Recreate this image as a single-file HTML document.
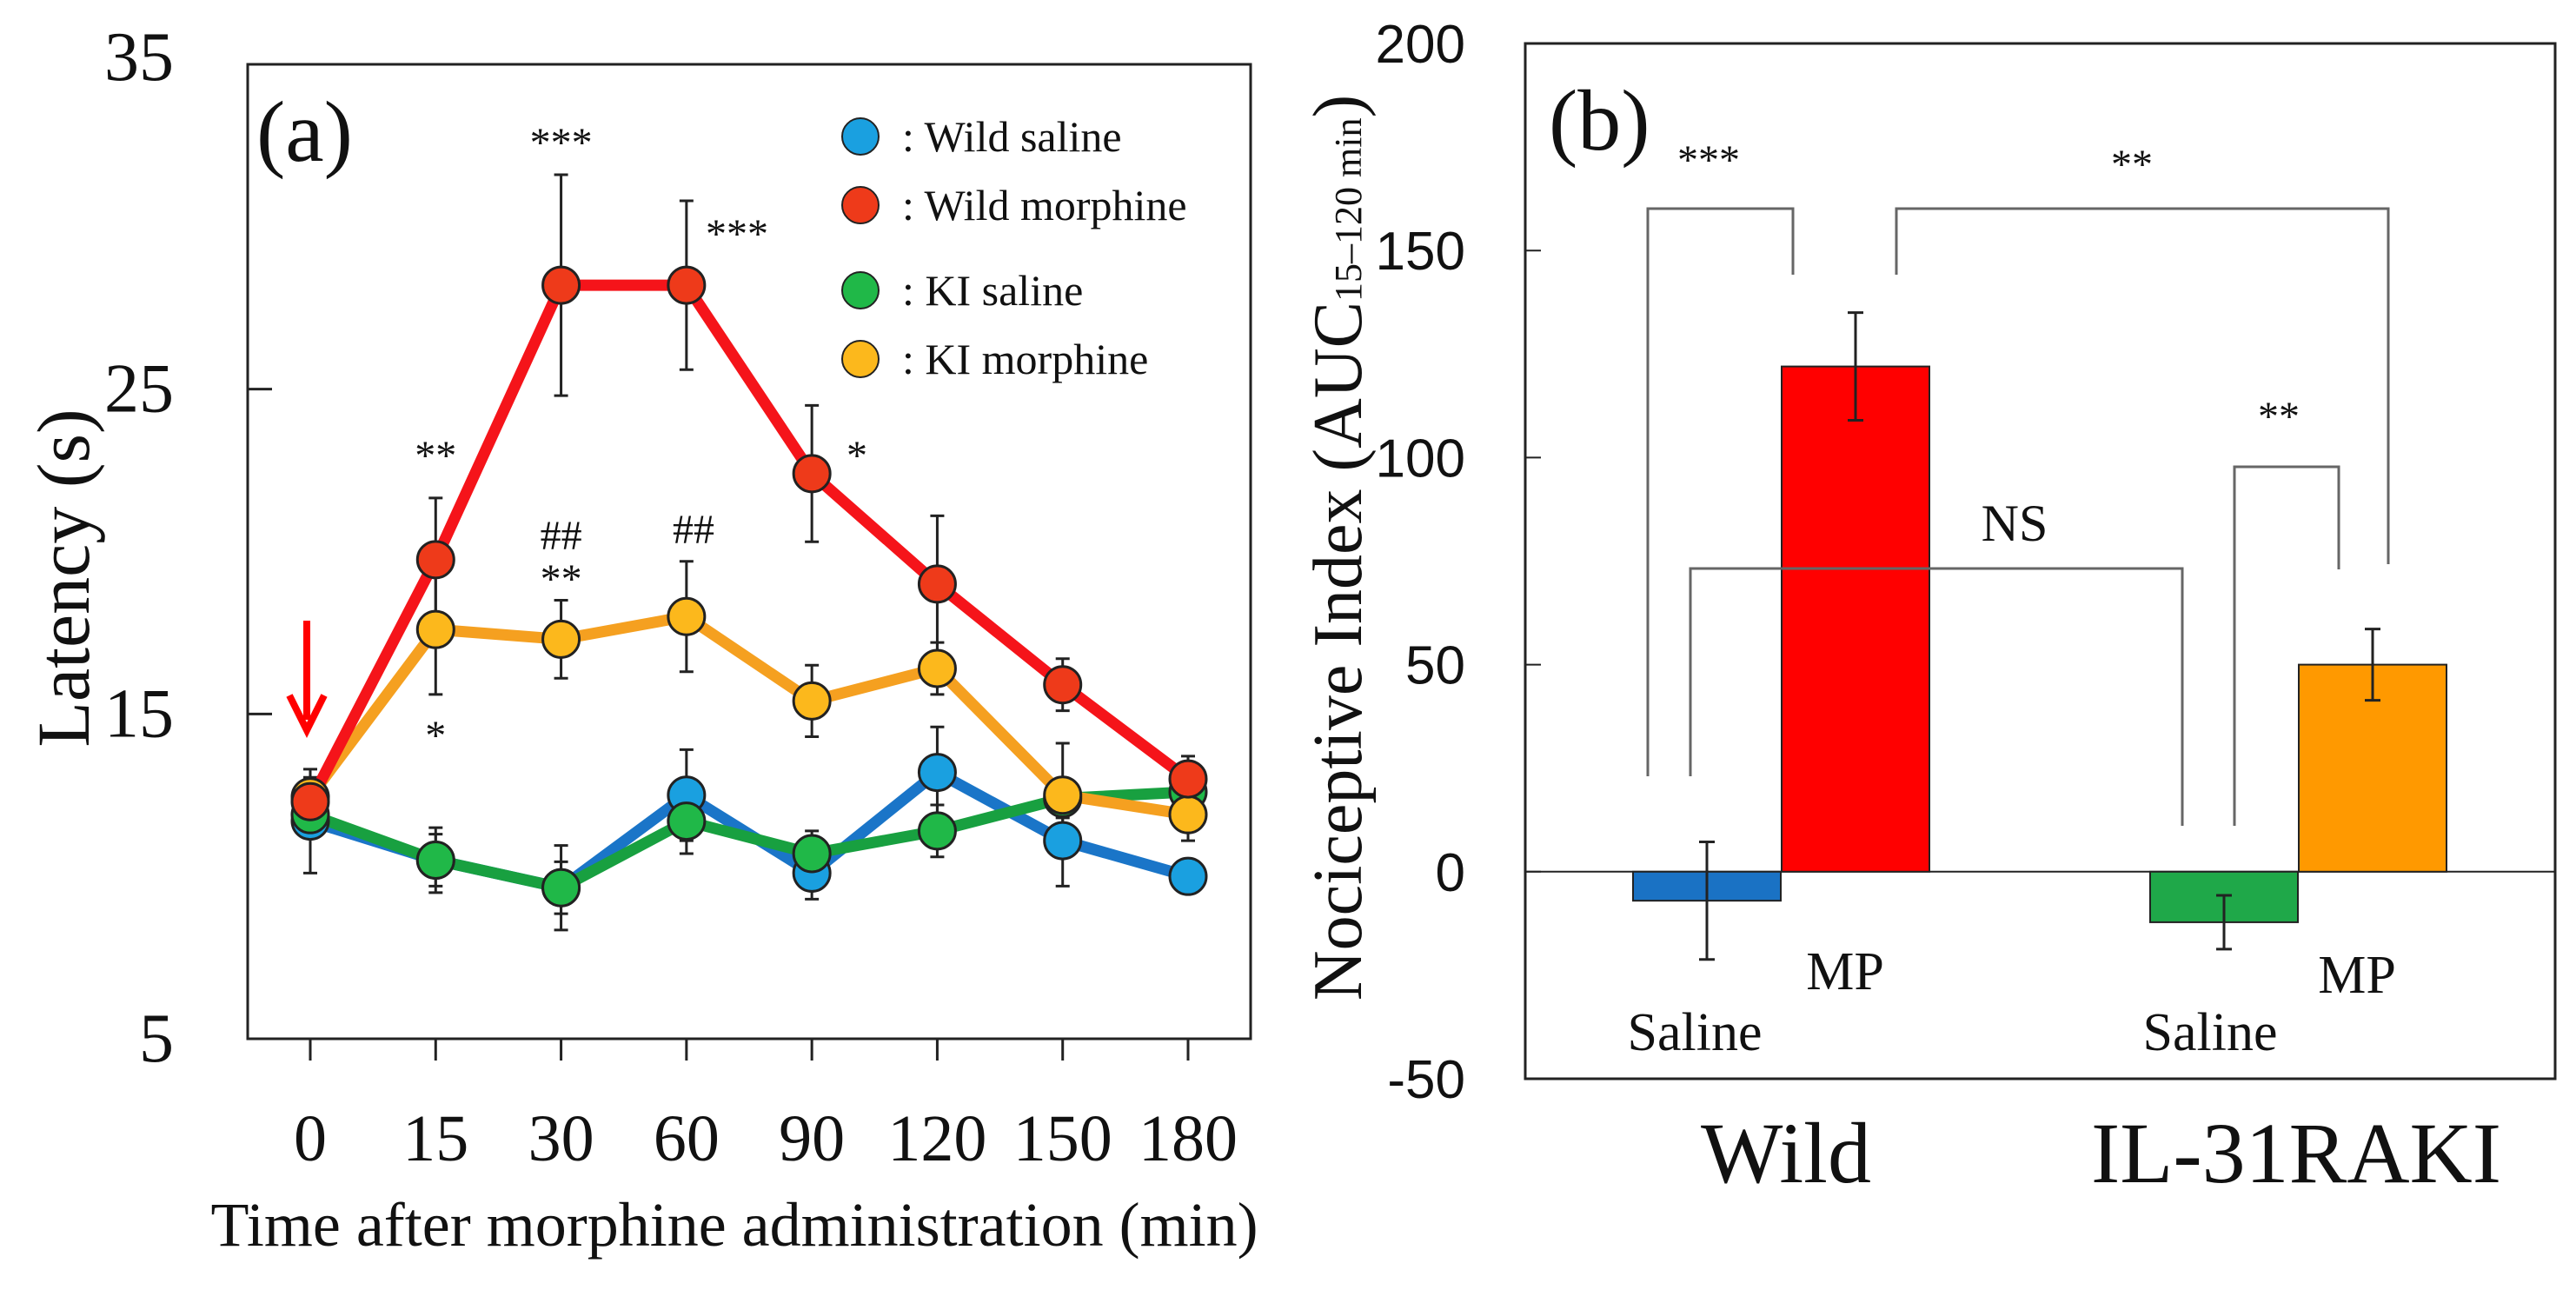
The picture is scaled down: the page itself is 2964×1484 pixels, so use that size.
<!DOCTYPE html>
<html><head><meta charset="utf-8"><style>
html,body{margin:0;padding:0;background:#fff}
svg{display:block}
text{font-family:"Liberation Serif",serif;fill:#111}
</style></head><body>
<svg id="c" width="2964" height="1484" viewBox="0 0 2964 1484" xmlns="http://www.w3.org/2000/svg"></svg>
<script>
// ---- Panel (a) data ----
const timeLabels = ["0","15","30","60","90","120","150","180"];
const wildSaline = [11.7,10.5,9.65,12.5,10.1,13.2,11.1,10.0];
const wildSalineErr = [1.6,1.0,1.3,1.4,0.8,1.4,1.4,0.4];
const wildMorphine = [12.3,19.75,28.2,28.2,22.4,19.0,15.9,13.0];
const wildMorphineErr = [0.6,1.9,3.4,2.6,2.1,2.1,0.8,0.7];
const kiSaline = [11.9,10.5,9.65,11.7,10.7,11.4,12.4,12.6];
const kiSalineErr = [0.7,0.8,0.8,1.0,0.7,0.8,0.6,0.6];
const kiMorphine = [12.45,17.6,17.3,18.0,15.4,16.4,12.5,11.9];
const kiMorphineErr = [0.6,2.0,1.2,1.7,1.1,0.8,1.6,0.8];
const yTicksA = [5,15,25,35];
// ---- Panel (b) data ----
const barGroups = ["Wild","IL-31RAKI"];
const barValues = [-7,122,-12.2,50];
const barErrors = [14.2,13,6.5,8.6];
const yTicksB = [-50,0,50,100,150,200];

const NS="http://www.w3.org/2000/svg";
const svg=document.getElementById('c');
function el(tag,attrs,parent,txt){const e=document.createElementNS(NS,tag);for(const k in attrs)e.setAttribute(k,attrs[k]);if(txt!==undefined)e.textContent=txt;(parent||svg).appendChild(e);return e;}

// ===== Panel A =====
const A={l:285,r:1439,t:74,b:1195,min:5,max:35};
const ya=v=>A.b-(v-A.min)/(A.max-A.min)*(A.b-A.t);
const xa=i=>357+i*(1367-357)/7;
const ga=el('g',{});

let fr=el('rect',{x:A.l,y:A.t,width:A.r-A.l,height:A.b-A.t,fill:'none',stroke:'#222','stroke-width':3},ga);

yTicksA.forEach(v=>{
  let tk=el('line',{x1:A.l,x2:A.l+28,y1:ya(v),y2:ya(v),stroke:'#222','stroke-width':3},ga);
  
  let t=el('text',{x:200,y:ya(v)+(v==35?18:26),'text-anchor':'end','font-size':80},ga,String(v));
  
});
timeLabels.forEach((s,i)=>{
  let tk=el('line',{x1:xa(i),x2:xa(i),y1:A.b,y2:A.b+25,stroke:'#222','stroke-width':3},ga);
  
  let t=el('text',{x:xa(i),y:1335,'text-anchor':'middle','font-size':76},ga,s);
  
});
let xt=el('text',{x:845,y:1433,'text-anchor':'middle','font-size':72},ga,'Time after morphine administration (min)');

let yt=el('text',{x:0,y:0,'text-anchor':'middle','font-size':86,transform:'translate(102,665) rotate(-90)'},ga,'Latency (s)');

let pl=el('text',{x:295,y:185,'font-size':100},ga,'(a)');


const series=[
 {name:'wild-saline',d:wildSaline,e:wildSalineErr,c:'#1a75c8',f:'#1aa0e0'},
 {name:'ki-saline',d:kiSaline,e:kiSalineErr,c:'#18a040',f:'#20b848'},
 {name:'ki-morphine',d:kiMorphine,e:kiMorphineErr,c:'#f5a020',f:'#fcb81c'},
 {name:'wild-morphine',d:wildMorphine,e:wildMorphineErr,c:'#f5141a',f:'#ee3a1a'}
];
series.forEach(s=>{
  s.d.forEach((v,i)=>{
    let eb=el('path',{d:`M${xa(i)} ${ya(v-s.e[i])}V${ya(v+s.e[i])}M${xa(i)-8} ${ya(v-s.e[i])}h16M${xa(i)-8} ${ya(v+s.e[i])}h16`,stroke:'#222','stroke-width':3,fill:'none'},ga);
    
  });
});
series.forEach(s=>{
  let ln=el('polyline',{points:s.d.map((v,i)=>xa(i)+','+ya(v)).join(' '),fill:'none',stroke:s.c,'stroke-width':13,'stroke-linejoin':'round'},ga);
  
});
series.forEach(s=>{
  s.d.forEach((v,i)=>{
    let p=el('circle',{cx:xa(i),cy:ya(v),r:21,fill:s.f,stroke:'#222','stroke-width':3},ga);
    
  });
});
let ar=el('path',{d:'M353 714V828M333 800L353 840L373 800',stroke:'#f00','stroke-width':8,fill:'none'},ga);

[['***',xa(2),180],['***',848,285],['**',xa(1),540],['*',986,540],['##',xa(2),632],['**',xa(2),682],['##',798,625],['*',xa(1),862]].forEach(a=>{
  let t=el('text',{x:a[1],y:a[2],'text-anchor':'middle','font-size':48},ga,a[0]);
  
});
[['#1aa0e0',157,': Wild  saline'],['#ee3a1a',236,': Wild  morphine'],['#20b848',334,': KI saline'],['#fcb81c',413,': KI morphine']].forEach(l=>{
  let g=el('g',{},ga);
  el('circle',{cx:990,cy:l[1],r:21,fill:l[0],stroke:'#222','stroke-width':2},g);
  el('text',{x:1038,y:l[1]+17,'font-size':50},g,l[2]);
});

// ===== Panel B =====
const B={l:1755,r:2940,t:50,b:1241,min:-50,max:200};
const yb=v=>B.b-(v-B.min)/(B.max-B.min)*(B.b-B.t);
const gb=el('g',{});
let fb=el('rect',{x:B.l,y:B.t,width:B.r-B.l,height:B.b-B.t,fill:'none',stroke:'#222','stroke-width':3},gb);

yTicksB.forEach(v=>{
  let tk=el('line',{x1:B.l,x2:B.l+18,y1:yb(v),y2:yb(v),stroke:'#222','stroke-width':2},gb);
  
  let t=el('text',{x:1686,y:yb(v)+22,'text-anchor':'end','font-size':62,style:'font-family:"Liberation Sans",sans-serif'},gb,String(v));
  
});
let zl=el('line',{x1:B.l,x2:B.r,y1:yb(0),y2:yb(0),stroke:'#222','stroke-width':2},gb);

const barX=[1879,2050,2474,2645];
const barW=170;
const barFill=['#1a72c4','#ff0000','#1fa849','#ff9900'];
const barNames=['bar-wild-saline','bar-wild-mp','bar-ki-saline','bar-ki-mp'];
barValues.forEach((v,i)=>{
  let r=el('rect',{x:barX[i],y:Math.min(yb(v),yb(0)),width:barW,height:Math.abs(yb(v)-yb(0)),fill:barFill[i],stroke:'#222','stroke-width':2},gb);
  
  const cx=barX[i]+barW/2,e=barErrors[i];
  let eb=el('path',{d:`M${cx} ${yb(v-e)}V${yb(v+e)}M${cx-9} ${yb(v-e)}h18M${cx-9} ${yb(v+e)}h18`,stroke:'#222','stroke-width':3,fill:'none'},gb);
  
});
[['M1896 893V240H2063V316','***',1966,200],['M2182 316V240H2748V649','**',2453,205],['M1945 893V654H2511V950','NS',2318,622],['M2571 950V537H2691V655','**',2622,495]].forEach(b=>{
  let p=el('path',{d:b[0],stroke:'#666','stroke-width':3,fill:'none'},gb);
  
  let t=el('text',{x:b[2],y:b[3],'text-anchor':'middle','font-size':b[1]=='NS'?60:48},gb,b[1]);
  
});
[['Saline',1950,1208],['MP',2123,1138],['Saline',2543,1208],['MP',2712,1142]].forEach(l=>{
  let t=el('text',{x:l[1],y:l[2],'text-anchor':'middle','font-size':62},gb,l[0]);
  
});
[2055,2642].forEach((x,i)=>{
  let t=el('text',{x:x,y:1360,'text-anchor':'middle','font-size':100},gb,barGroups[i]);
  
});
let ybT=el('text',{x:0,y:0,'text-anchor':'middle','font-size':80,transform:'translate(1566,630) rotate(-90)'},gb);

el('tspan',{},ybT,'Nociceptive Index (AUC');
el('tspan',{'font-size':44},ybT,'15\u2013120 min');
el('tspan',{},ybT,')');
let pb=el('text',{x:1782,y:172,'font-size':100},gb,'(b)');

</script>
</body></html>
